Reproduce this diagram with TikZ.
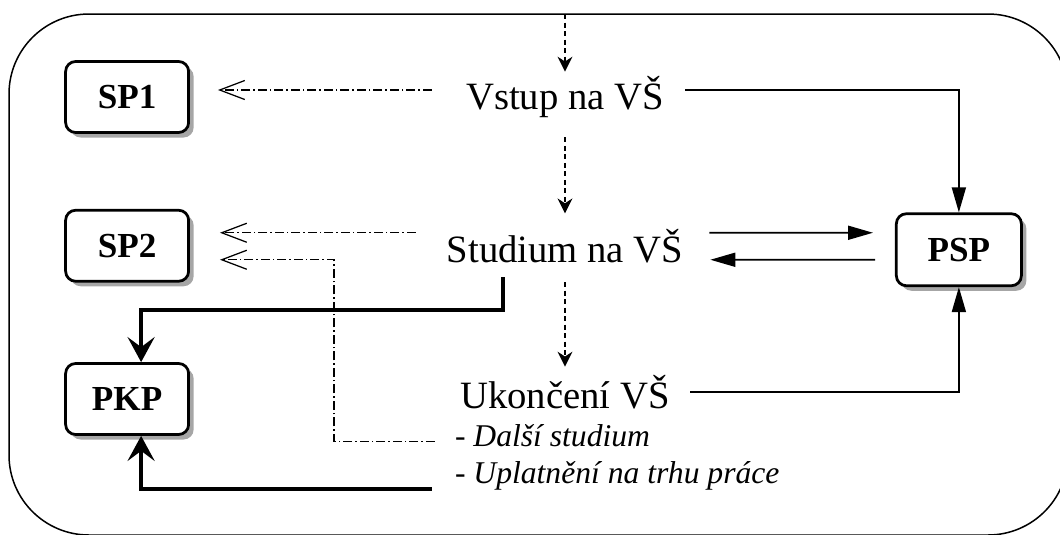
\documentclass[tikz,border=0pt]{standalone}
\usepackage{fontspec}
\setmainfont{Liberation Serif}
\usetikzlibrary{matrix,arrows.meta,calc,shadows}

\begin{document}
\begin{tikzpicture}[x=0.2mm, y=-0.2mm,
  stagebox/.style={draw, line width=0.55mm, rounded corners=2mm, fill=white,
    minimum width=24.6mm, minimum height=14.2mm, inner sep=0pt,
    font=\bfseries\fontsize{20}{24}\selectfont,
    drop shadow={shadow xshift=1mm, shadow yshift=-1mm, fill=black!35, opacity=1}},
  dasharrow/.style={line width=0.3mm, dash pattern=on 1mm off 0.7mm, -{Stealth[length=3mm,width=3mm]}},
  dotarrow/.style={line width=0.25mm, dash pattern=on 1.8mm off 0.6mm on 0.3mm off 0.6mm, -{Straight Barb[length=5mm,width=3.8mm]}},
  linearrow/.style={line width=0.35mm, -{Triangle[length=5mm,width=2.8mm]}},
  boldarrow/.style={line width=0.8mm, -{Stealth[length=5mm,width=5.4mm,inset=2mm]}},
  note/.style={inner sep=0pt, anchor=base west, font=\fontsize{18}{22}\selectfont}]
		\path[use as bounding box] (0,0) rectangle (1060,534);
		\clip (0,0) rectangle (1060,534);
		\draw[line width=0.3mm, rounded corners=16mm] (9,14) rectangle (1068,535);
		\matrix (m) [matrix of nodes, row sep=15mm, column sep=42mm, nodes={anchor=center},
			column 2/.style={nodes={inner sep=0pt, minimum width=48mm, minimum height=10mm, font=\fontsize{22}{26}\selectfont}}] at (543.5,248)
		{
			|[stagebox]| SP1 &[9mm] Vstup na VŠ & \\
			|[stagebox]| SP2 & Studium na VŠ & |[stagebox, minimum width=25mm, minimum height=14.4mm, yshift=-0.8mm]| PSP \\
			|[stagebox]| PKP & |[yshift=1.4mm]| Ukončení VŠ & \\
		};
		\node[note] (dalsi) at ($(m-3-2.base west)+(10,38)$) {- \textit{Další studium}};
		\node[note] (uplat) at ($(dalsi.base west)+(0,37)$) {- \textit{Uplatnění na trhu práce}};
		\coordinate (entry) at (m-1-2.north |- 0,14);
		\draw[dasharrow] (entry) -- (m-1-2.north);
		\draw[dasharrow, shorten <=3mm, shorten >=1.4mm] (m-1-2) -- (m-2-2);
		\draw[dasharrow, shorten <=2.2mm] (m-2-2) -- (m-3-2);
		\draw[dotarrow] ($(m-1-2.west)+(-13,-7)$) -- ($(m-1-1.east)+(28,-7)$);
		\draw[dotarrow] ($(m-2-2.west)+(-29,-13)$) -- ($(m-2-1.east)+(30,-13)$);
		\draw[dotarrow] ($(dalsi.base west)+(-20,-5)$) -| ($(m-2-1.east)+(144,14)$) -- ($(m-2-1.east)+(30,14)$);
		\draw[linearrow] ($(m-1-2.east)+(0,-7)$) -| (m-2-3.north);
		\draw[linearrow] ($(m-2-2.east)+(24,-13)$) -- ($(m-2-3.west)+(-22,-17)$);
		\draw[linearrow] ($(m-2-3.west)+(-20,10)$) -- ($(m-2-2.east)+(25,14)$);
		\draw[linearrow] ($(m-3-2.east)+(5,0)$) -| (m-2-3.south);
		\draw[boldarrow] ($(m-2-2.south)+(-62,6)$) |- ($(m-3-1.north)+(14,-52)$) -- ($(m-3-1.north)+(14,0)$);
		\draw[boldarrow] ($(uplat.base west)+(-23,6)$) -| ($(m-3-1.south)+(14,0)$);
\end{tikzpicture}
\end{document}
